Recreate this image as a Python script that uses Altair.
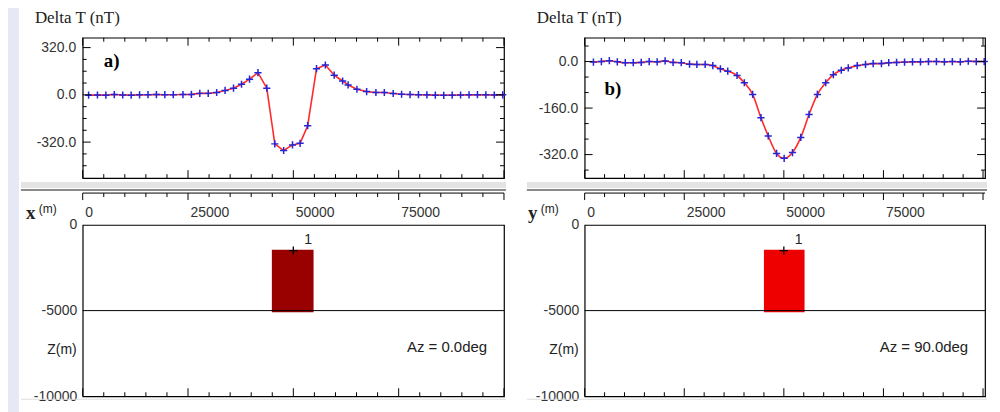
import altair as alt
import pandas as pd

# ---------------- data ----------------
# Panel a) profile along x (Az = 0 deg)
xa = [1400, 3500, 5500, 7500, 9500, 11500, 13500, 15500, 17500, 19500, 21500,
      23800, 25800, 27800, 29800, 31800, 33800, 35800, 37700, 39600, 41600,
      43700, 45600, 47700, 49800, 51600, 53400, 55500, 57600, 59700, 61700,
      63000, 65100, 67400, 69600, 71600, 73700, 75700, 77700, 79700, 81700,
      83700, 85700, 87700, 89700, 91700, 93700, 95700, 97700, 99700]
va = [-2, -1, -2, 2, -1, -2, 0, 1, 2, 1, 1,
      2, 3, 10, 10, 16, 30, 45, 72, 106, 150,
      45, -332, -377, -339, -328, -209, 177, 202, 133, 94,
      67, 38, 22, 16, 16, 9, 4, 2, 1, 0,
      -2, -3, -2, -1, 0, 1, 0, -1, 0]

# Panel b) profile along y (Az = 90 deg)
xb = [2200, 4200, 6200, 8200, 10200, 12200, 14200, 16200, 18200, 20200, 22200,
      24250, 26330, 28170, 30250, 32170, 34080, 35920, 38250, 40080, 42170,
      44250, 46080, 48170, 50080, 52170, 54250, 56330, 58420, 60500, 62420,
      64420, 66170, 68420, 70500, 72420, 74500, 76330, 78300, 80300, 82300,
      84300, 86300, 88300, 90300, 92300, 94300, 96300, 98300, 100300]
vb = [-2, 0, 3, -1, -4, -4, -3, 0, -1, 2, -3,
      -4, -9, -10, -10, -14, -25, -33, -48, -73, -113,
      -193, -256, -316, -333, -313, -261, -182, -113, -73, -45,
      -30, -22, -14, -10, -7, -7, -4, -3, -2, -1,
      -1, 0, 0, -1, 0, -1, 1, 0, 0]

# Source body (prism) in each section
body_x1 = [44900, 45000]
body_x2 = [54800, 55200]
body_ztop = [-1450, -1450]
body_zbot = [-5100, -5100]
body_cx = [50000, 50000]
body_cz = [-1500, -1500]
body_colors = ["#990000", "#ee0000"]
level_z = [-5000]

# Tick labels / tick positions
x_major = [0, 25000, 50000, 75000, 100000]
x_minor = [v for v in range(0, 100001, 5000) if v % 25000 != 0]
x_labels = [0, 25000, 50000, 75000]
ya_major = [-320, 0, 320]
ya_minor = [-480, -400, -240, -160, -80, 80, 160, 240]
yb_major = [-320, -160, 0]
yb_minor = [-373.33, -266.67, -213.33, -106.67, -53.33, 53.33]
z_labels = [0, -5000, -10000]

panel_tags = ["a)", "b)"]
tag_x = [5000, 5000]
tag_v = [230, -95]
horiz_names = ["x", "y"]
az_texts = ["Az = 0.0deg", "Az = 90.0deg"]
az_x = [100000, 100500]
az_z = [-7100, -7100]
title_text = ["Delta T (nT)"]

SANS = "Liberation Sans"
SERIF = "Liberation Serif"
H_TOP = 141
H_BOT = 172
# ASCII hyphen for negative labels, as in the original software
LBL_1F = "(datum.value < 0 ? '-' : '') + format(abs(datum.value), '.1f')"
LBL_D = "(datum.value < 0 ? '-' : '') + format(abs(datum.value), 'd')"


def rules(values, length, side, w, h, xs, ys, base=0, color="black", xaxis=True):
    df = pd.DataFrame({"v": values})
    m = alt.Chart(df).mark_rule(color=color, strokeWidth=1)
    if side in ("top", "bottom"):
        y0 = base if side == "top" else h
        y1 = y0 + length if side == "top" else h - length
        xenc = alt.X("v:Q", scale=xs) if xaxis else alt.X("v:Q", scale=xs, axis=None)
        return m.encode(x=xenc, y=alt.value(y0), y2=alt.value(y1))
    x0 = 0 if side == "left" else w
    x1 = length if side == "left" else w - length
    return m.encode(y=alt.Y("v:Q", scale=ys), x=alt.value(x0), x2=alt.value(x1))


def one_df():
    return pd.DataFrame({"k": [0]})


def top_chart(i, xs_data, vs_data, w, xdom, ydom, ymaj, ymin, smooth):
    xs = alt.Scale(domain=xdom, nice=False, zero=False)
    ys = alt.Scale(domain=ydom, nice=False, zero=False)
    df = pd.DataFrame({"X": xs_data, "V": vs_data})

    line = alt.Chart(df).mark_line(
        color="#ff2a2a", strokeWidth=1.6,
        interpolate="monotone" if smooth else "linear"
    ).encode(
        x=alt.X("X:Q", scale=xs, axis=None),
        y=alt.Y("V:Q", scale=ys, axis=alt.Axis(
            values=ymaj, labelExpr=LBL_1F, labelPadding=7, title=None)),
    )
    pts = alt.Chart(df).mark_point(
        shape="M-1,0L1,0M0,-1L0,1", filled=False, color="#2424d8",
        size=52, strokeWidth=1.5, opacity=1
    ).encode(x=alt.X("X:Q", scale=xs, axis=None), y=alt.Y("V:Q", scale=ys))

    tag = alt.Chart(pd.DataFrame({"t": [panel_tags[i]], "x": [tag_x[i]],
                                  "v": [tag_v[i]]})).mark_text(
        font=SERIF, fontSize=19, fontWeight="bold", align="left",
        baseline="middle", color="black"
    ).encode(x=alt.X("x:Q", scale=xs, axis=None), y=alt.Y("v:Q", scale=ys),
             text="t:N")

    ttl = alt.Chart(pd.DataFrame({"t": title_text})).mark_text(
        font=SERIF, fontSize=17, align="left", baseline="middle", color="#222"
    ).encode(x=alt.value(-48), y=alt.value(-20), text="t:N")

    sx0 = -62 if i == 0 else -58
    sep_light = alt.Chart(one_df()).mark_rect(color="#e4e4e4").encode(
        x=alt.value(sx0), x2=alt.value(w + 2),
        y=alt.value(H_TOP + 4), y2=alt.value(H_TOP + 10))
    sep_dark = alt.Chart(one_df()).mark_rule(color="#8a8a8a", strokeWidth=2).encode(
        x=alt.value(sx0), x2=alt.value(w + 2), y=alt.value(H_TOP + 12))

    layers = [line, pts, tag, ttl, sep_light, sep_dark]
    if i == 0:
        strip = alt.Chart(one_df()).mark_rect(color="#e6e9f5").encode(
            x=alt.value(-76), x2=alt.value(-64),
            y=alt.value(-30), y2=alt.value(376))
        layers.append(strip)

    layers += [
        rules(x_major, 8, "top", w, H_TOP, xs, ys, xaxis=False),
        rules(x_minor, 4, "top", w, H_TOP, xs, ys, xaxis=False),
        rules(x_major, 8, "bottom", w, H_TOP, xs, ys, xaxis=False),
        rules(x_minor, 4, "bottom", w, H_TOP, xs, ys, xaxis=False),
        rules(ymaj, 8, "left", w, H_TOP, xs, ys),
        rules(ymin, 4, "left", w, H_TOP, xs, ys),
        rules(ymaj, 8, "right", w, H_TOP, xs, ys),
        rules(ymin, 4, "right", w, H_TOP, xs, ys),
    ]
    return alt.layer(*layers).properties(width=w, height=H_TOP)


def bottom_chart(i, w, xdom):
    xs = alt.Scale(domain=xdom, nice=False, zero=False)
    zs = alt.Scale(domain=[-10000, 0], nice=False, zero=False)
    bdf = pd.DataFrame({"x1": [body_x1[i]], "x2": [body_x2[i]],
                        "z1": [body_ztop[i]], "z2": [body_zbot[i]],
                        "cx": [body_cx[i]], "cz": [body_cz[i]], "lab": ["1"]})
    body = alt.Chart(bdf).mark_rect(color=body_colors[i]).encode(
        x=alt.X("x1:Q", scale=xs, axis=alt.Axis(
            orient="top", values=x_labels, format="d", labelAlign="left",
            labelBaseline="middle", labelPadding=12, labelOffset=2,
            title=None)),
        x2="x2:Q",
        y=alt.Y("z1:Q", scale=zs, axis=alt.Axis(
            values=z_labels, labelExpr=LBL_D, labelPadding=6, title=None,
            labelBaseline="middle")),
        y2="z2:Q",
    )
    level = alt.Chart(pd.DataFrame({"z": level_z})).mark_rule(
        color="black", strokeWidth=1).encode(y=alt.Y("z:Q", scale=zs))
    cross = alt.Chart(bdf).mark_point(
        shape="M-1,0L1,0M0,-1L0,1", filled=False, color="black",
        size=70, strokeWidth=1.3, opacity=1
    ).encode(x=alt.X("cx:Q", scale=xs), y=alt.Y("cz:Q", scale=zs))
    one = alt.Chart(bdf).mark_text(
        font=SANS, fontSize=14, dx=11, dy=-11, align="left", color="#222"
    ).encode(x=alt.X("cx:Q", scale=xs), y=alt.Y("cz:Q", scale=zs), text="lab:N")
    az = alt.Chart(pd.DataFrame({"t": [az_texts[i]], "x": [az_x[i]],
                                 "z": [az_z[i]]})).mark_text(
        font=SANS, fontSize=15, align="right", baseline="middle", dx=-17,
        color="#222"
    ).encode(x=alt.X("x:Q", scale=xs), y=alt.Y("z:Q", scale=zs), text="t:N")
    zlab = alt.Chart(pd.DataFrame({"t": ["Z(m)"], "z": [-7300]})).mark_text(
        font=SANS, fontSize=14, align="right", baseline="middle", color="#222"
    ).encode(x=alt.value(-6), y=alt.Y("z:Q", scale=zs), text="t:N")
    hname = alt.Chart(pd.DataFrame({"t": [horiz_names[i]]})).mark_text(
        font=SERIF, fontSize=19, fontWeight="bold", align="left",
        baseline="middle", color="#222"
    ).encode(x=alt.value(-57), y=alt.value(-12), text="t:N")
    hunit = alt.Chart(pd.DataFrame({"t": ["(m)"]})).mark_text(
        font=SANS, fontSize=12, align="left", baseline="middle", color="#222"
    ).encode(x=alt.value(-44), y=alt.value(-16), text="t:N")

    sx0 = -62 if i == 0 else -58
    axis_line = alt.Chart(one_df()).mark_rule(color="black", strokeWidth=1).encode(
        x=alt.value(0), x2=alt.value(w), y=alt.value(-32))
    bottom_line = alt.Chart(one_df()).mark_rule(color="#dddddd", strokeWidth=1).encode(
        x=alt.value(sx0), x2=alt.value(w + 2), y=alt.value(H_BOT + 3))

    return alt.layer(
        body, level, cross, one, az, zlab, hname, hunit, axis_line, bottom_line,
        rules(x_major, 7, "top", w, H_BOT, xs, zs, base=-32),
        rules(x_minor, 4, "top", w, H_BOT, xs, zs, base=-32),
        rules(x_major, 8, "bottom", w, H_BOT, xs, zs),
        rules(x_minor, 4, "bottom", w, H_BOT, xs, zs),
    ).properties(width=w, height=H_BOT)


top_a = top_chart(0, xa, va, 423, [0, 100000], [-564, 387], ya_major, ya_minor, False)
top_b = top_chart(1, xb, vb, 402, [0, 100500], [-401, 82], yb_major, yb_minor, True)
bot_a = bottom_chart(0, 423, [0, 100000])
bot_b = bottom_chart(1, 402, [0, 100500])

chart = alt.concat(
    top_a, top_b, bot_a, bot_b, columns=2,
    spacing={"row": 47, "column": 81}, bounds="flush"
).properties(
    padding={"left": -2, "top": -2, "right": 0, "bottom": 0}, background="white"
).configure_view(
    stroke="black", strokeWidth=1.2
).configure_axis(
    ticks=False, domain=False, grid=False, labelFont=SANS, labelFontSize=14,
    labelColor="#333"
)

chart.save("out.html", embed_options={"renderer": "svg", "actions": False})
